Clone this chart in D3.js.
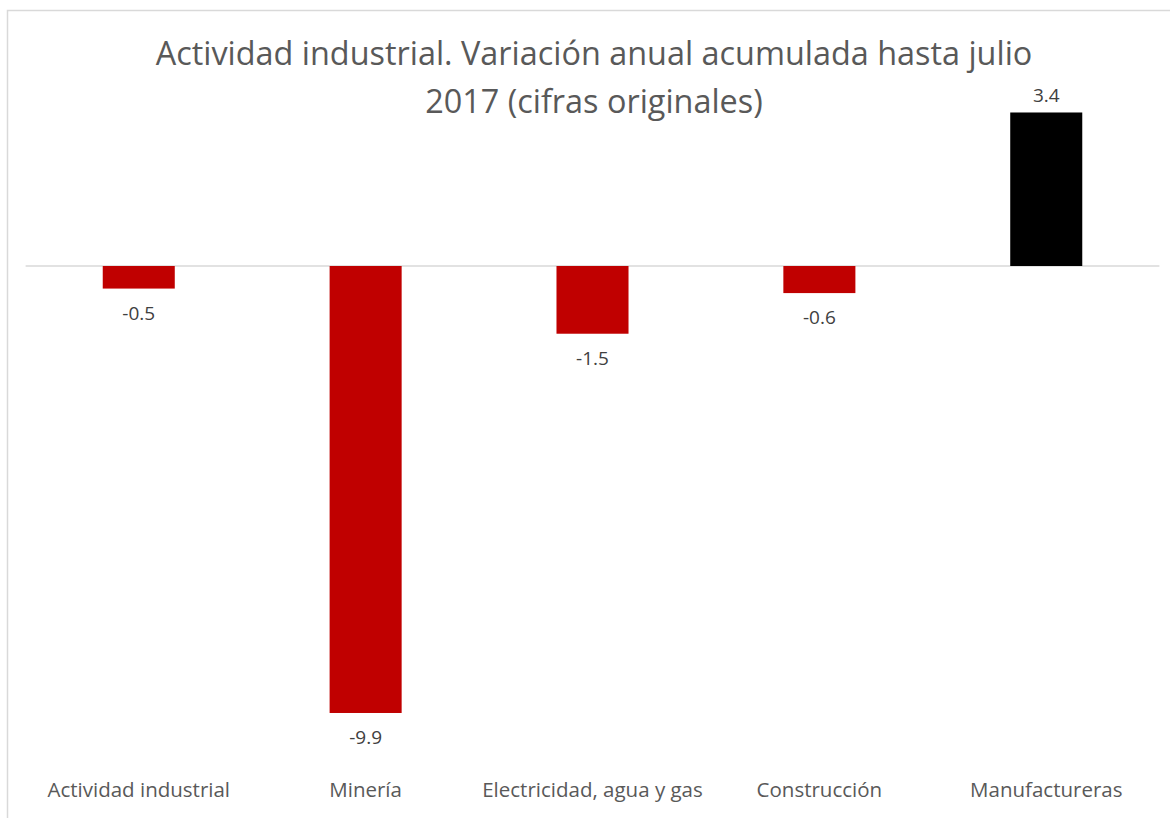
<!DOCTYPE html>
<html><head><meta charset="utf-8">
<script src="https://cdn.jsdelivr.net/npm/d3@7"></script>
<style>body{margin:0;background:#fff}svg{display:block}</style>
</head><body>
<script>
const categories = ["Actividad industrial","Minería","Electricidad, agua y gas","Construcción","Manufactureras"];
const values = [-0.5, -9.9, -1.5, -0.6, 3.4];
const colors = ["#c00000","#c00000","#c00000","#c00000","#000000"];
const titleLines = ["Actividad industrial. Variación anual acumulada hasta julio","2017 (cifras originales)"];

const W = 1170, H = 818;
const svg = d3.select("body").append("svg").attr("width", W).attr("height", H);
svg.append("rect").attr("x",7.5).attr("y",10.5).attr("width",W).attr("height",H).attr("fill","#fff").attr("stroke","#d9d9d9").attr("stroke-width",1.5);

const x = d3.scaleBand().domain(categories).range([25.6,1159.4]).paddingInner(0.6825).paddingOuter(0.34);
const y = d3.scaleLinear().domain([-10,4]).range([717.5,85.4]);
const font = "'Open Sans', sans-serif";

svg.append("g").selectAll("text").data(titleLines).join("text")
  .attr("x",594).attr("y",(d,i)=>65+i*48).attr("text-anchor","middle")
  .attr("font-family",font).attr("font-size",32.4).attr("fill","#595959").text(d=>d);

svg.append("line").attr("x1",25.6).attr("x2",1159.4).attr("y1",y(0)).attr("y2",y(0)).attr("stroke","#d9d9d9").attr("stroke-width",1.5);

const data = categories.map((c,i)=>({c,v:values[i],col:colors[i]}));
svg.append("g").selectAll("rect").data(data).join("rect")
  .attr("x",d=>x(d.c)).attr("width",x.bandwidth())
  .attr("y",d=>y(Math.max(0,d.v))).attr("height",d=>Math.abs(y(d.v)-y(0)))
  .attr("fill",d=>d.col);

svg.append("g").selectAll("text").data(data).join("text")
  .attr("x",d=>x(d.c)+x.bandwidth()/2)
  .attr("y",d=>d.v<0 ? y(d.v)+31 : y(d.v)-10)
  .attr("text-anchor","middle").attr("font-family",font).attr("font-size",19).attr("fill","#404040")
  .text(d=>d3.format(".1f")(d.v).replace("\u2212","-"));

const xAxis = svg.append("g").attr("transform","translate(0,797)")
  .call(d3.axisBottom(x).tickSize(0).tickPadding(0));
xAxis.select(".domain").remove();
xAxis.selectAll("text").attr("font-family",font).attr("font-size",20.5).attr("fill","#595959").attr("dy","0");
</script>
</body></html>
